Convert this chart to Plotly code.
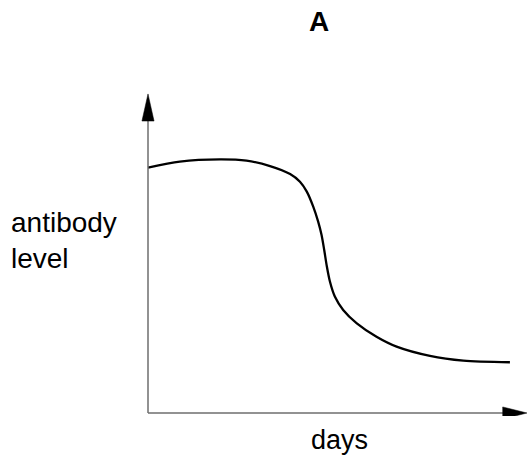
import plotly.graph_objects as go

# curve (days vs antibody level, arbitrary units 0-100)
days = [0, 8.4, 19.0, 26.0, 32.2, 37.5, 40.1, 41.9, 43.6, 44.9, 45.8, 46.5, 47.2,
        48.0, 49.3, 51.5, 55.1, 60.3, 65.6, 74.4, 83.2, 95.5]
level = [76.9, 78.8, 79.5, 79.1, 77.4, 74.9, 72.5, 69.4, 64.7, 60.0, 55.8, 51.1, 45.9,
         41.2, 36.5, 32.3, 28.1, 23.9, 20.8, 17.9, 16.4, 15.9]

x_label = "days"
y_label = "antibody<br>level"
title_text = "A"

FONT = "Liberation Sans, Arial, Helvetica, sans-serif"
AXIS_GREY = "#6e6e6e"

W, H = 530, 456
L, R, T, B = 130, 0, 85, 40
pw, ph = W - L - R, H - T - B


def px_to_paper(sx, sy):
    return (sx - L) / pw, 1 - (sy - T) / ph


fig = go.Figure()
fig.add_trace(go.Scatter(
    x=days, y=level, mode="lines",
    line=dict(color="black", width=2.3, shape="spline", smoothing=0.8),
    hoverinfo="skip", showlegend=False, cliponaxis=False,
))

# axis lines with filled arrowheads
fig.add_shape(type="line", x0=0, y0=0, x1=0, y1=93, line=dict(color=AXIS_GREY, width=1.5))
fig.add_shape(type="line", x0=0, y0=0, x1=95, y1=0, line=dict(color=AXIS_GREY, width=1.5))
fig.add_shape(type="path", path="M -1.6 91.5 L 1.6 91.5 L 0 100 Z",
              fillcolor="black", line=dict(color="black", width=0.5))
fig.add_shape(type="path", path="M 93.6 -1.9 L 93.6 1.9 L 100 0 Z",
              fillcolor="black", line=dict(color="black", width=0.5))

ax, ay = px_to_paper(9, 240)
fig.add_annotation(text=y_label, x=ax, y=ay, xref="paper", yref="paper",
                   xanchor="left", yanchor="middle", align="left", showarrow=False,
                   font=dict(family=FONT, size=28, color="black"))
dx, dy = px_to_paper(339, 440)
fig.add_annotation(text=x_label, x=dx, y=dy, xref="paper", yref="paper",
                   xanchor="center", yanchor="middle", showarrow=False,
                   font=dict(family=FONT, size=27, color="black"))

fig.update_layout(
    width=W, height=H,
    margin=dict(l=L, r=R, t=T, b=B),
    paper_bgcolor="white", plot_bgcolor="white",
    title=dict(text="<b>" + title_text + "</b>", xref="container", yref="container",
               x=319 / W, y=1 - 21 / H, xanchor="center", yanchor="middle",
               font=dict(family=FONT, size=28, color="black")),
    xaxis=dict(range=[-4.75, 100.8], visible=False, fixedrange=True),
    yaxis=dict(range=[-0.94, 102.8], visible=False, fixedrange=True),
)

# drop the default body margin so the figure sits at the window corner
fig.write_html("out.html", config={"displayModeBar": False},
               post_script="document.body.style.margin='0';")
